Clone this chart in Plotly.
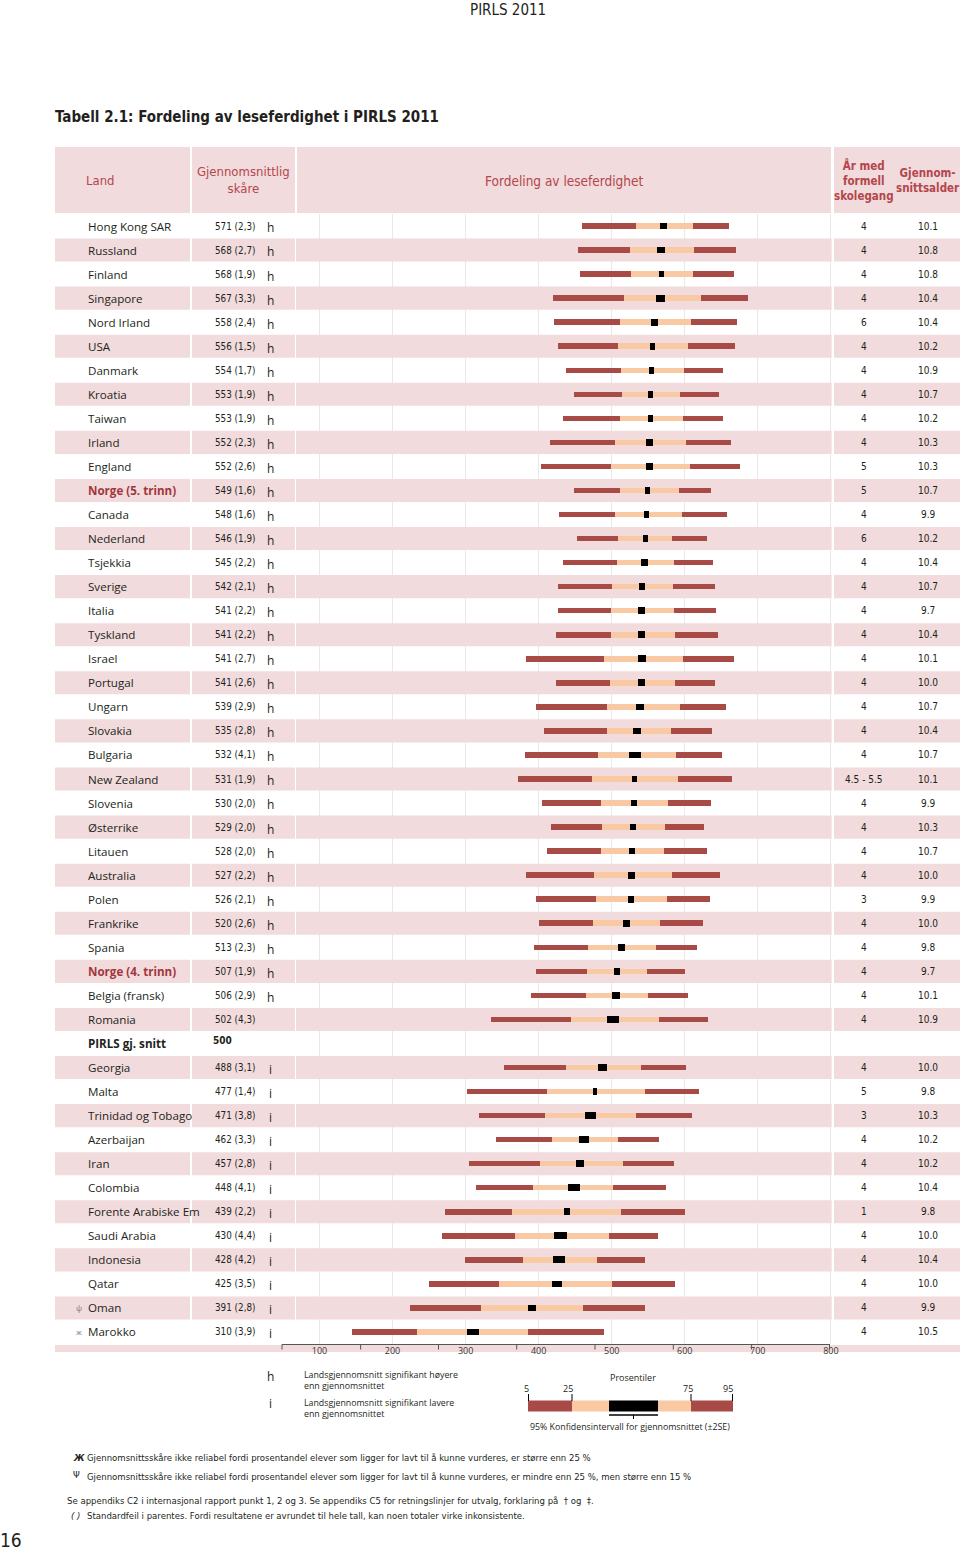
import plotly.graph_objects as go

# ---------------- DATA ----------------
countries = ["Hong Kong SAR", "Russland", "Finland", "Singapore", "Nord Irland", "USA",
             "Danmark", "Kroatia", "Taiwan", "Irland", "England", "Norge (5. trinn)",
             "Canada", "Nederland", "Tsjekkia", "Sverige", "Italia", "Tyskland", "Israel",
             "Portugal", "Ungarn", "Slovakia", "Bulgaria", "New Zealand", "Slovenia",
             "Østerrike", "Litauen", "Australia", "Polen", "Frankrike", "Spania",
             "Norge (4. trinn)", "Belgia (fransk)", "Romania",
             "Georgia", "Malta", "Trinidad og Tobago", "Azerbaijan", "Iran", "Colombia",
             "Forente Arabiske Em", "Saudi Arabia", "Indonesia", "Qatar", "Oman", "Marokko"]
mean_score = [571, 568, 568, 567, 558, 556, 554, 553, 553, 552, 552, 549, 548, 546, 545,
              542, 541, 541, 541, 541, 539, 535, 532, 531, 530, 529, 528, 527, 526, 520,
              513, 507, 506, 502,
              488, 477, 471, 462, 457, 448, 439, 430, 428, 425, 391, 310]
std_err = [2.3, 2.7, 1.9, 3.3, 2.4, 1.5, 1.7, 1.9, 1.9, 2.3, 2.6, 1.6, 1.6, 1.9, 2.2,
           2.1, 2.2, 2.2, 2.7, 2.6, 2.9, 2.8, 4.1, 1.9, 2.0, 2.0, 2.0, 2.2, 2.1, 2.6,
           2.3, 1.9, 2.9, 4.3,
           3.1, 1.4, 3.8, 3.3, 2.8, 4.1, 2.2, 4.4, 4.2, 3.5, 2.8, 3.9]
significance = ["h"] * 33 + [""] + ["i"] * 12
years_school = ["4", "4", "4", "4", "6", "4", "4", "4", "4", "4", "5", "5", "4", "6", "4",
                "4", "4", "4", "4", "4", "4", "4", "4", "4.5 - 5.5", "4", "4", "4", "4", "3",
                "4", "4", "4", "4", "4",
                "4", "5", "3", "4", "4", "4", "1", "4", "4", "4", "4", "4"]
mean_age = ["10.1", "10.8", "10.8", "10.4", "10.4", "10.2", "10.9", "10.7", "10.2", "10.3",
            "10.3", "10.7", "9.9", "10.2", "10.4", "10.7", "9.7", "10.4", "10.1", "10.0",
            "10.7", "10.4", "10.7", "10.1", "9.9", "10.3", "10.7", "10.0", "9.9", "10.0",
            "9.8", "9.7", "10.1", "10.9",
            "10.0", "9.8", "10.3", "10.2", "10.2", "10.4", "9.8", "10.0", "10.4", "10.0",
            "9.9", "10.5"]
p5 = [459, 454, 457, 420, 421, 427, 437, 448, 433, 416, 403, 448, 428, 453, 433, 426, 427,
      424, 382, 424, 396, 407, 381, 372, 404, 417, 411, 383, 396, 400, 393, 397, 390, 335,
      352, 302, 319, 342, 305, 314, 272, 268, 299, 250, 224, 145]
p25 = [533, 525, 526, 517, 511, 509, 513, 514, 511, 505, 499, 511, 504, 509, 507, 501, 499,
       499, 489, 498, 493, 494, 481, 473, 486, 487, 486, 476, 478, 474, 468, 466, 465, 444,
       438, 412, 409, 418, 402, 392, 364, 368, 379, 346, 321, 234]
p75 = [611, 612, 611, 622, 608, 605, 599, 593, 598, 602, 607, 592, 596, 583, 585, 584, 585,
       586, 598, 586, 594, 581, 588, 591, 577, 573, 572, 583, 576, 566, 560, 549, 550, 565,
       540, 545, 533, 508, 516, 502, 513, 496, 480, 500, 461, 385]
p95 = [661, 670, 667, 686, 672, 669, 652, 647, 652, 663, 676, 636, 658, 631, 638, 642, 643,
       646, 668, 642, 656, 637, 651, 665, 636, 626, 630, 648, 635, 625, 617, 600, 604, 632,
       602, 620, 610, 565, 585, 574, 601, 564, 545, 587, 546, 489]
norway_rows = ["Norge (5. trinn)", "Norge (4. trinn)"]
reliability_marks = {"Oman": "ψ", "Marokko": "ж"}
avg_label = "PIRLS gj. snitt"
avg_value = 500
avg_row = 34
axis_ticks = [100, 200, 300, 400, 500, 600, 700, 800]

# ---------------- GEOMETRY / STYLE ----------------
W, H = 960, 1551
L, R, T, B = 296, 832, 214, 1344
PX_PER_UNIT = 0.7305
X_MIN = 100 + (L - 319.5) / PX_PER_UNIT
X_MAX = 100 + (R - 319.5) / PX_PER_UNIT
N_ROWS = len(countries) + 1

PINK = "#f1dbdc"
DARK = "#a84b46"
LIGHT = "#f8c9a2"
HEAD = "#b4464c"
TXT = "#231f20"
SANS = "Open Sans, Noto Sans, sans-serif"
NARROW = "DejaVu Sans Condensed, Liberation Sans Narrow, sans-serif"


def fx(x):
    return (x - L) / (R - L)


def fy(y):
    return (B - y) / (B - T)


rows = [i if i < avg_row else i + 1 for i in range(len(countries))]

fig = go.Figure()

BAR_W = 0.23
segments = [
    ("5-25", p5, [b - a for a, b in zip(p5, p25)], DARK),
    ("25-75", p25, [b - a for a, b in zip(p25, p75)], LIGHT),
    ("75-95", p75, [b - a for a, b in zip(p75, p95)], DARK),
]
for name, base, length, col in segments:
    fig.add_trace(go.Bar(y=rows, x=length, base=base, orientation="h", width=BAR_W,
                         marker=dict(color=col, line=dict(width=0)), name=name,
                         showlegend=False, hoverinfo="skip"))
ci_base = [m - 2 * s for m, s in zip(mean_score, std_err)]
ci_len = [4 * s for s in std_err]
fig.add_trace(go.Bar(y=rows, x=ci_len, base=ci_base, orientation="h", width=0.28,
                     marker=dict(color="#000000", line=dict(width=0)), name="CI",
                     showlegend=False, hoverinfo="skip"))

shapes = []
annotations = []

# header band
for x0, x1 in [(55, 190), (192, 295), (297, 831), (834, 960)]:
    shapes.append(dict(type="rect", xref="paper", yref="paper", x0=fx(x0), x1=fx(x1),
                       y0=fy(213), y1=fy(147), fillcolor=PINK, line=dict(width=0),
                       layer="below"))

# alternating row bands
for r in range(N_ROWS):
    if r % 2 == 1:
        for x0, x1 in [(55, 190), (192, 295), (834, 960)]:
            shapes.append(dict(type="rect", xref="paper", yref="y", x0=fx(x0), x1=fx(x1),
                               y0=r - 0.48, y1=r + 0.48, fillcolor=PINK,
                               line=dict(width=0), layer="below"))
        shapes.append(dict(type="rect", xref="x", yref="y", x0=X_MIN, x1=X_MAX - 0.5,
                           y0=r - 0.48, y1=r + 0.48, fillcolor=PINK,
                           line=dict(width=0), layer="between"))

# bottom axis band and offset tick line
shapes.append(dict(type="rect", xref="paper", yref="paper", x0=fx(55), x1=fx(960),
                   y0=fy(1352), y1=fy(1345), fillcolor=PINK, line=dict(width=0),
                   layer="below"))
shapes.append(dict(type="line", xref="paper", yref="paper", x0=fx(282), x1=fx(830),
                   y0=fy(1344.5), y1=fy(1344.5), line=dict(color="#555555", width=1)))
for tx in [282, 360.6, 438.5, 516.7, 595, 673.3, 751.6, 829.5]:
    shapes.append(dict(type="line", xref="paper", yref="paper", x0=fx(tx), x1=fx(tx),
                       y0=fy(1344.5), y1=fy(1349.5), line=dict(color="#555555", width=1)))


def ann(text, x, y, size=12, color=TXT, family=SANS, xanchor="left", yref="paper",
        align="left"):
    annotations.append(dict(text=text, x=fx(x), y=(fy(y) if yref == "paper" else y),
                            xref="paper", yref=yref, showarrow=False, xanchor=xanchor,
                            yanchor="middle", align=align,
                            font=dict(size=size, color=color, family=family)))


# titles
ann("PIRLS 2011", 508, 10, size=15, family=NARROW, xanchor="center")
ann("<b>Tabell 2.1: Fordeling av leseferdighet i PIRLS 2011</b>", 53, 117, size=15,
    family=NARROW)
ann("16", -2, 1540, size=19, family=NARROW)

# header labels
ann("Land", 100, 180, size=13, color=HEAD, family=NARROW, xanchor="center")
ann("Gjennomsnittlig<br>skåre", 243, 180, size=13, color=HEAD, family=NARROW,
    xanchor="center", align="center")
ann("Fordeling av leseferdighet", 564, 181, size=13.5, color=HEAD, family=NARROW,
    xanchor="center")
ann("<b>År med<br>formell<br>skolegang</b>", 864, 180, size=11.5, color=HEAD,
    family=NARROW, xanchor="center", align="center")
ann("<b>Gjennom-<br>snittsalder</b>", 928, 180, size=11.5, color=HEAD, family=NARROW,
    xanchor="center", align="center")

# table rows
for i, c in enumerate(countries):
    r = rows[i]
    if c in norway_rows:
        ann("<b>" + c + "</b>", 86, r, size=11.6, color="#a3363c", yref="y")
    else:
        ann(c, 86, r, size=11.6, yref="y")
    if c in reliability_marks:
        ann(reliability_marks[c], 74, r, size=8, color="#777777", yref="y")
    se_txt = ("%.1f" % std_err[i]).replace(".", ",")
    ann("%d (%s)" % (mean_score[i], se_txt), 213, r, size=9.8, family=NARROW, yref="y")
    if significance[i]:
        ann(significance[i], 270, r + 0.08, size=12, xanchor="center", yref="y")
    ann(years_school[i], 864, r, size=10, family=NARROW, xanchor="center", yref="y")
    ann(mean_age[i], 928, r, size=10, family=NARROW, xanchor="center", yref="y")

ann("<b>" + avg_label + "</b>", 86, avg_row, size=11.6, yref="y")
ann("<b>%d</b>" % avg_value, 211, avg_row - 0.12, size=10, family=NARROW, yref="y")

# legend
ann("h", 270, 1376, size=12, xanchor="center")
ann("Landsgjennomsnitt signifikant høyere<br>enn gjennomsnittet", 302, 1380, size=8.8)
ann("i", 270, 1403, size=12, xanchor="center")
ann("Landsgjennomsnitt signifikant lavere<br>enn gjennomsnittet", 302, 1408, size=8.8)
ann("Prosentiler", 633, 1377, size=9, xanchor="center")
for lbl, lx in [("5", 526), ("25", 568), ("75", 688), ("95", 728)]:
    ann(lbl, lx, 1388, size=9, xanchor="center")
for x0, x1, col in [(528, 572, DARK), (572, 609, LIGHT), (609, 658, "#000000"),
                    (658, 691, LIGHT), (691, 733, DARK)]:
    shapes.append(dict(type="rect", xref="paper", yref="paper", x0=fx(x0), x1=fx(x1),
                       y0=fy(1411.5), y1=fy(1400.5), fillcolor=col, line=dict(width=0)))
for tx in [528.5, 572, 691, 732.5]:
    shapes.append(dict(type="line", xref="paper", yref="paper", x0=fx(tx), x1=fx(tx),
                       y0=fy(1401), y1=fy(1394), line=dict(color="#000000", width=1)))
shapes.append(dict(type="line", xref="paper", yref="paper", x0=fx(609), x1=fx(658),
                   y0=fy(1415), y1=fy(1415), line=dict(color="#000000", width=1.5)))
shapes.append(dict(type="line", xref="paper", yref="paper", x0=fx(633.5), x1=fx(633.5),
                   y0=fy(1415), y1=fy(1419), line=dict(color="#000000", width=1)))
ann("95% Konfidensintervall for gjennomsnittet (±2SE)", 630, 1427, size=8.8,
    xanchor="center")

# footnotes
FN = 9.5
ann("<b><i>Ж</i></b>", 71, 1457, size=FN, family=NARROW)
ann("Gjennomsnittsskåre ikke reliabel fordi prosentandel elever som ligger for lavt til å "
    "kunne vurderes, er større enn 25 %", 85, 1457, size=FN, family=NARROW)
ann("Ψ", 71, 1474, size=FN, family=NARROW)
ann("Gjennomsnittsskåre ikke reliabel fordi prosentandel elever som ligger for lavt til å "
    "kunne vurderes, er mindre enn 25 %, men større enn 15 %", 85, 1476, size=FN,
    family=NARROW)
ann("Se appendiks C2 i internasjonal rapport punkt 1, 2 og 3. Se appendiks C5 for "
    "retningslinjer for utvalg, forklaring på  † og  ‡.", 65, 1500, size=FN, family=NARROW)
ann("<i>( )</i>", 69, 1515, size=FN, family=NARROW)
ann("Standardfeil i parentes. Fordi resultatene er avrundet til hele tall, kan noen "
    "totaler virke inkonsistente.", 85, 1515, size=FN, family=NARROW)

fig.update_layout(
    width=W, height=H,
    margin=dict(l=L, r=W - R, t=T, b=H - B, pad=0),
    paper_bgcolor="white", plot_bgcolor="white",
    barmode="overlay", bargap=0,
    showlegend=False,
    shapes=shapes, annotations=annotations,
    xaxis=dict(range=[X_MIN, X_MAX], tickvals=axis_ticks, ticktext=[str(t) for t in axis_ticks],
               showgrid=True, gridcolor="#e9e9e9", gridwidth=1, zeroline=False,
               showline=False, ticks="", tickfont=dict(size=9, color="#333333", family=SANS),
               fixedrange=True),
    yaxis=dict(range=[N_ROWS - 0.5, -0.5], showgrid=False, zeroline=False,
               showticklabels=False, ticks="", showline=False, fixedrange=True),
)

fig.write_html("out.html", config={"displayModeBar": False},
               post_script="document.body.style.margin='0px';")
